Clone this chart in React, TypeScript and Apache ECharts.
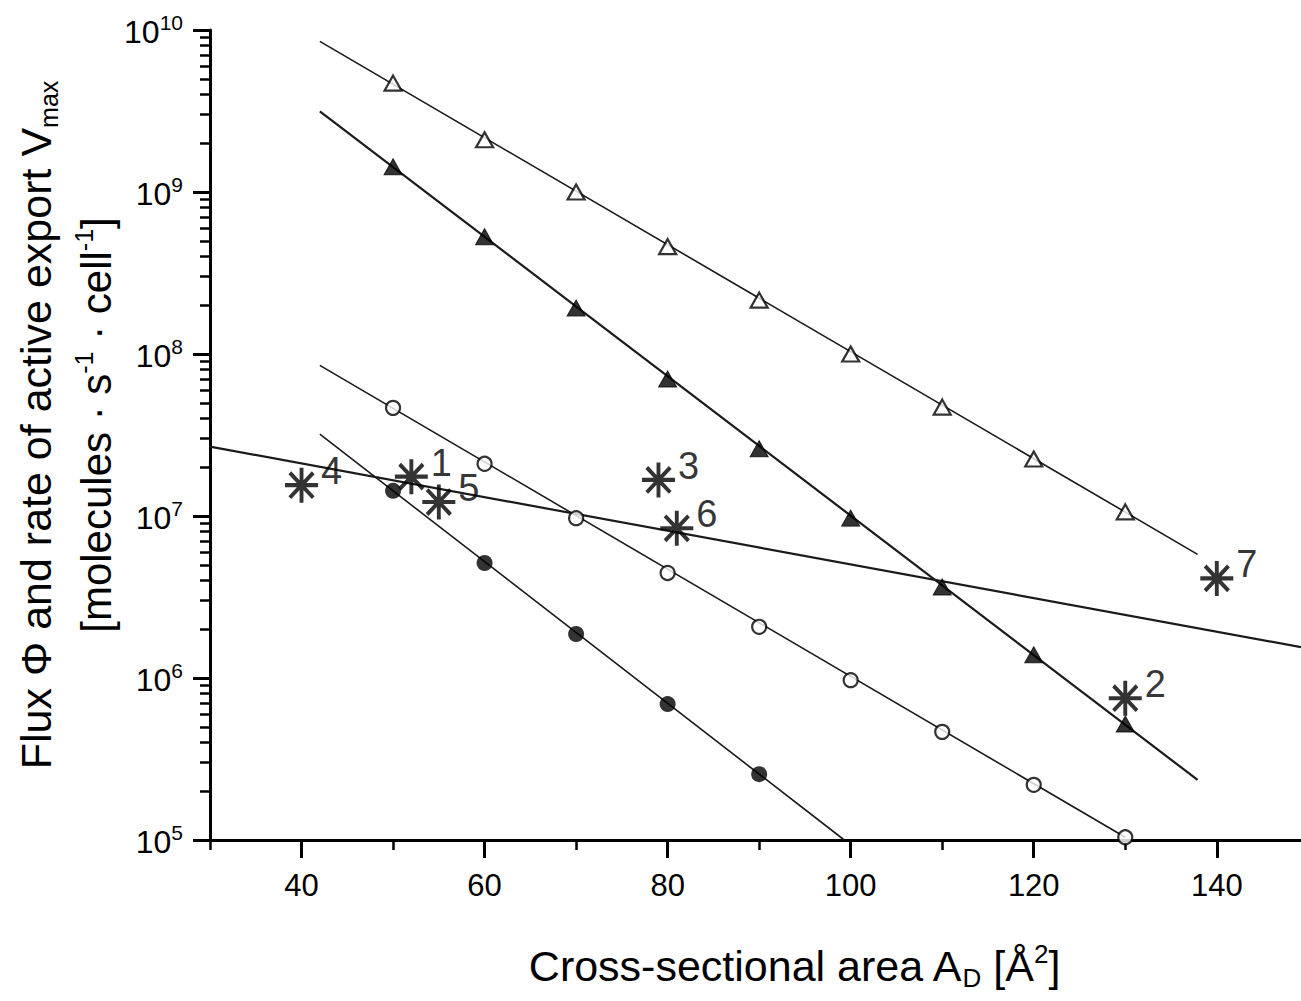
import React, { useEffect, useRef } from "react";
import * as echarts from "echarts";

// ---- data ----
const pointX = [50, 60, 70, 80, 90, 100, 110, 120, 130];
const openTriangle = [4.7e9, 2.1e9, 1.0e9, 4.6e8, 2.15e8, 1.0e8, 4.7e7, 2.25e7, 1.06e7];
const filledTriangle = [1.43e9, 5.3e8, 1.92e8, 7.0e7, 2.6e7, 9.7e6, 3.65e6, 1.39e6, 5.2e5];
const openCircle = [4.65e7, 2.1e7, 9.7e6, 4.45e6, 2.07e6, 9.7e5, 4.65e5, 2.19e5, 1.04e5];
const filledCircleX = [50, 60, 70, 80, 90];
const filledCircle = [1.43e7, 5.13e6, 1.87e6, 6.9e5, 2.55e5];

// fitted lines: [x, value] end points
const openTriangleFit = [[42, 8.5e9], [137.9, 5.8e6]];
const filledTriangleFit = [[42, 3.15e9], [137.9, 2.35e5]];
const openCircleFit = [[42, 8.5e7], [130, 1.04e5]];
const filledCircleFit = [[42, 3.2e7], [99.3, 1.0e5]];
const fluxFit = [[30, 2.68e7], [149.2, 1.55e6]];

// measured proteins (asterisks)
const starX = [52, 130, 79, 40, 55, 81, 140];
const starY = [1.75e7, 7.5e5, 1.67e7, 1.55e7, 1.22e7, 8.4e6, 4.12e6];
const starLabels = ["1", "2", "3", "4", "5", "6", "7"];

// axis ticks
const xMajorTicks = [40, 60, 80, 100, 120, 140];
const xMinorTicks = [30, 50, 70, 90, 110, 130];
const yDecadeTicks = [1e5, 1e6, 1e7, 1e8, 1e9, 1e10];
const yMinorMultipliers = [2, 3, 4, 5, 6, 7, 8, 9];
const yMinorDecades = [1e5, 1e6, 1e7, 1e8, 1e9];

const FONT = "'Liberation Sans', Arial, Helvetica, sans-serif";
const STAR =
  "path://M10,0L10,20M0,10L20,10M2.9,2.9L17.1,17.1M2.9,17.1L17.1,2.9";

export default function App() {
  const ref = useRef<HTMLDivElement>(null);

  useEffect(() => {
    if (!ref.current) return;
    const chart = echarts.init(ref.current, null, { renderer: "svg" });

    const yMinorTicks: number[] = [];
    yMinorDecades.forEach((d) =>
      yMinorMultipliers.forEach((m) => yMinorTicks.push(m * d))
    );

    const grid = { left: 210, top: 30, width: 1091, height: 810 };
    const axisLineStyle = { color: "#000", width: 3 };

    const fitLine = (data: number[][], width: number) => ({
      type: "line",
      data,
      xAxisIndex: 0,
      yAxisIndex: 0,
      showSymbol: false,
      symbol: "none",
      clip: true,
      lineStyle: { color: "#1a1a1a", width },
      z: 2,
      silent: true,
    });

    const pts = (xs: number[], ys: number[]) => xs.map((x, i) => [x, ys[i]]);

    const option: any = {
      animation: false,
      backgroundColor: "#fff",
      grid,
      xAxis: [
        {
          type: "value",
          min: 30,
          max: 149.2,
          axisLine: { show: true, lineStyle: axisLineStyle, onZero: false },
          axisTick: {
            show: true,
            length: 10,
            lineStyle: { color: "#000", width: 2.5 },
            customValues: xMinorTicks,
          },
          axisLabel: { show: false },
          splitLine: { show: false },
        },
        {
          type: "value",
          min: 30,
          max: 149.2,
          position: "bottom",
          offset: 0,
          axisLine: { show: false },
          axisTick: {
            show: true,
            length: 18,
            lineStyle: { color: "#000", width: 3 },
            customValues: xMajorTicks,
          },
          axisLabel: {
            show: true,
            customValues: xMajorTicks,
            fontSize: 31,
            fontFamily: FONT,
            color: "#000",
            margin: 30,
          },
          splitLine: { show: false },
        },
      ],
      yAxis: [
        {
          type: "log",
          logBase: 10,
          min: 1e5,
          max: 1e10,
          axisLine: { show: true, lineStyle: axisLineStyle, onZero: false },
          axisTick: {
            show: true,
            length: 17,
            lineStyle: { color: "#000", width: 3 },
            customValues: yDecadeTicks,
          },
          axisLabel: {
            show: true,
            customValues: yDecadeTicks,
            margin: 27,
            fontFamily: FONT,
            color: "#000",
            formatter: (v: number) => `{b|10}{s|${Math.round(Math.log10(v))}}`,
            rich: {
              b: { fontSize: 32, fontFamily: FONT, color: "#000", lineHeight: 36, verticalAlign: "bottom" },
              s: { fontSize: 21, fontFamily: FONT, color: "#000", lineHeight: 16, verticalAlign: "top" },
            },
          },
          splitLine: { show: false },
          minorTick: { show: false },
        },
        {
          type: "log",
          logBase: 10,
          min: 1e5,
          max: 1e10,
          position: "left",
          offset: 0,
          axisLine: { show: false },
          axisTick: {
            show: true,
            length: 10,
            lineStyle: { color: "#000", width: 2.5 },
            customValues: yMinorTicks,
          },
          axisLabel: { show: false },
          splitLine: { show: false },
        },
      ],
      series: [
        fitLine(openTriangleFit, 1.6),
        fitLine(filledTriangleFit, 2.2),
        fitLine(openCircleFit, 1.6),
        fitLine(filledCircleFit, 1.6),
        fitLine(fluxFit, 2.2),
        {
          type: "scatter",
          data: pts(pointX, openTriangle),
          symbol: "triangle",
          symbolSize: [17, 15],
          itemStyle: { color: "#fff", borderColor: "#000", borderWidth: 2.2 },
          z: 5,
          silent: true,
        },
        {
          type: "scatter",
          data: pts(pointX, filledTriangle),
          symbol: "triangle",
          symbolSize: [18, 16],
          itemStyle: { color: "#000", borderColor: "#000", borderWidth: 1 },
          z: 5,
          silent: true,
        },
        {
          type: "scatter",
          data: pts(pointX, openCircle),
          symbol: "circle",
          symbolSize: 14,
          itemStyle: { color: "#fff", borderColor: "#000", borderWidth: 2.2 },
          z: 5,
          silent: true,
        },
        {
          type: "scatter",
          data: pts(filledCircleX, filledCircle),
          symbol: "circle",
          symbolSize: 16,
          itemStyle: { color: "#000" },
          z: 5,
          silent: true,
        },
        {
          type: "scatter",
          data: starX.map((x, i) => ({ value: [x, starY[i]], name: starLabels[i] })),
          symbol: STAR,
          symbolSize: [33, 35],
          itemStyle: { color: "#000", borderColor: "#000", borderWidth: 4 },
          label: {
            show: true,
            position: "right",
            distance: 1,
            offset: [0, -14],
            formatter: (p: any) => p.name,
            fontSize: 38,
            fontFamily: FONT,
            color: "#000",
          },
          z: 6,
          silent: true,
        },
      ],
      graphic: [
        {
          type: "text",
          x: 794,
          y: 966,
          style: {
            text: "{n|Cross-sectional area A}{sub|D}{n| [Å}{sup|2}{n|]}",
            align: "center",
            verticalAlign: "middle",
            rich: {
              n: { fontSize: 43, fontFamily: FONT, color: "#000", lineHeight: 50, verticalAlign: "middle" },
              sub: { fontSize: 26, fontFamily: FONT, color: "#000", lineHeight: 18, verticalAlign: "bottom" },
              sup: { fontSize: 26, fontFamily: FONT, color: "#000", lineHeight: 26, verticalAlign: "top" },
            },
          },
        },
        {
          type: "text",
          x: 36,
          y: 425,
          rotation: Math.PI / 2,
          style: {
            text: "{n|Flux Φ and rate of active export V}{sub|max}",
            align: "center",
            verticalAlign: "middle",
            rich: {
              n: { fontSize: 43, fontFamily: FONT, color: "#000", lineHeight: 50, verticalAlign: "middle" },
              sub: { fontSize: 25, fontFamily: FONT, color: "#000", lineHeight: 16, verticalAlign: "bottom" },
            },
          },
        },
        {
          type: "text",
          x: 96,
          y: 425,
          rotation: Math.PI / 2,
          style: {
            text: "{n|[molecules · s}{sup|-1}{n| · cell}{sup|-1}{n|]}",
            align: "center",
            verticalAlign: "middle",
            rich: {
              n: { fontSize: 42, fontFamily: FONT, color: "#000", lineHeight: 50, verticalAlign: "middle" },
              sup: { fontSize: 25, fontFamily: FONT, color: "#000", lineHeight: 24, verticalAlign: "top" },
            },
          },
        },
      ],
    };

    chart.setOption(option);
    return () => chart.dispose();
  }, []);

  return (
    <div
      ref={ref}
      style={{ position: "absolute", left: 0, top: 0, width: 1301, height: 1001 }}
    />
  );
}
